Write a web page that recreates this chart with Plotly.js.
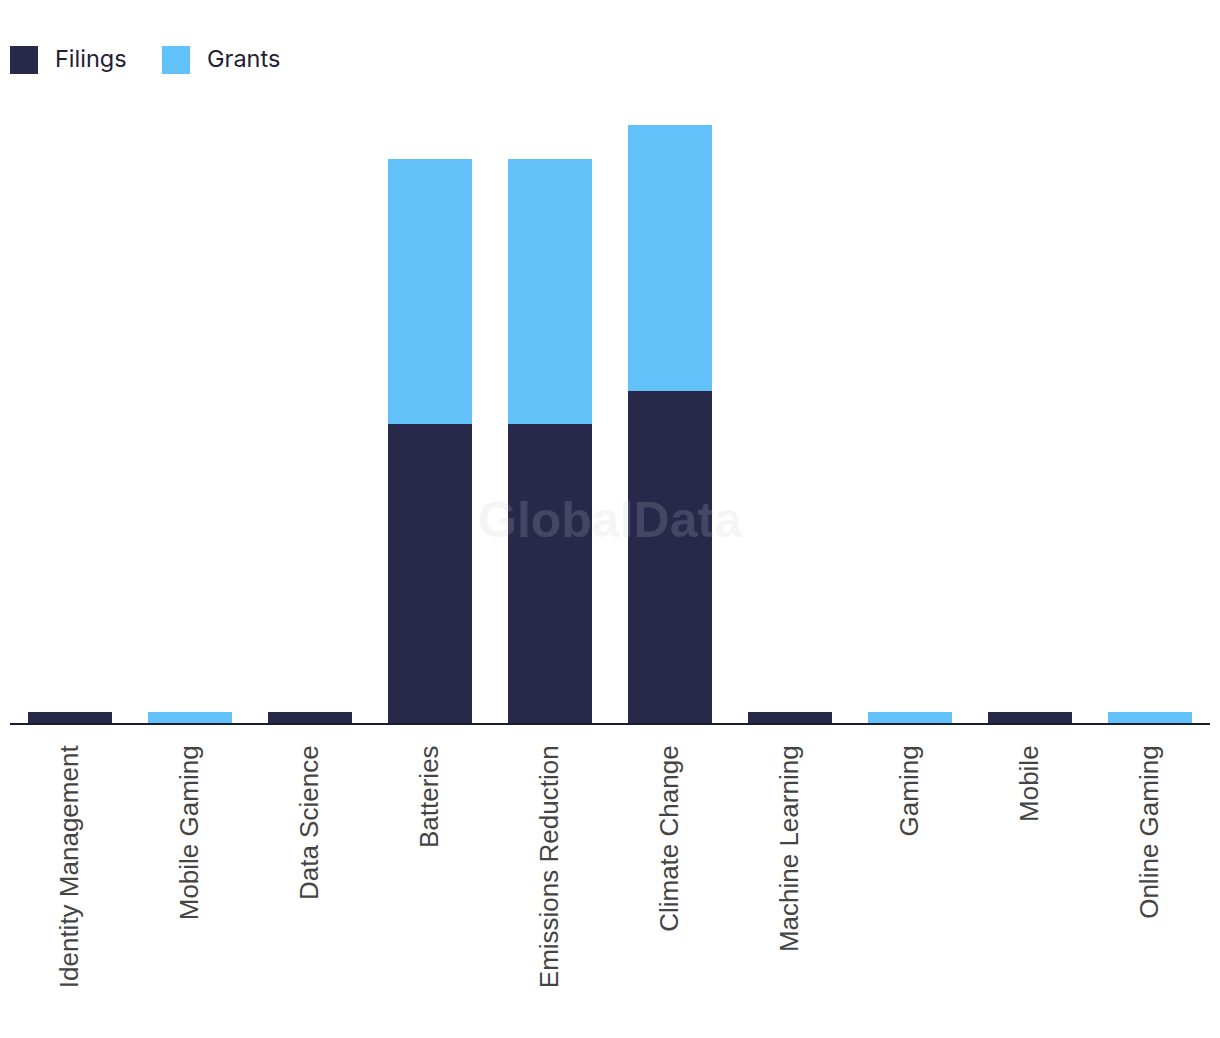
<!DOCTYPE html>
<html>
<head>
<meta charset="utf-8">
<script src="https://cdn.plot.ly/plotly-3.0.1.min.js"></script>
<style>html,body{margin:0;padding:0;background:#fff;}#chart{width:1220px;height:1038px;}</style>
</head>
<body>
<div id="chart"></div>
<script>
const categories = ["Identity Management","Mobile Gaming","Data Science","Batteries","Emissions Reduction","Climate Change","Machine Learning","Gaming","Mobile","Online Gaming"];
const filings = [1,0,1,27,27,30,1,0,1,0];
const grants  = [0,1,0,24,24,24,0,1,0,1];
const seriesNames = ["Filings","Grants"];
const seriesColors = ["#27284a","#62c1f9"];

const traces = [
  {type:'bar', name:seriesNames[0], x:categories, y:filings, marker:{color:seriesColors[0]}, showlegend:false, hoverinfo:'x+y+name'},
  {type:'bar', name:seriesNames[1], x:categories, y:grants, marker:{color:seriesColors[1]}, showlegend:false, hoverinfo:'x+y+name'}
];

const legendFont = {family:'Inter, "Noto Sans", sans-serif', size:23.5, color:'#1f2035'};
const layout = {
  width:1220, height:1038,
  margin:{l:10, r:10, t:100, b:315, pad:0},
  paper_bgcolor:'#ffffff', plot_bgcolor:'#ffffff',
  barmode:'stack', bargap:0.3,
  showlegend:false,
  xaxis:{type:'category', showline:true, linecolor:'#1b1b2f', linewidth:2, showgrid:false, zeroline:false,
         ticks:'', tickangle:-90, ticklabelstandoff:10,
         tickfont:{family:'"Liberation Sans", Arial, sans-serif', size:26, color:'#444444'}, automargin:false},
  yaxis:{range:[0,56.3], showgrid:false, zeroline:false, showticklabels:false, showline:false, fixedrange:true},
  shapes:[
    {type:'rect', xref:'paper', yref:'paper', x0:0, x1:28/1200, y0:1+ (100-46)/623, y1:1+(100-74)/623, fillcolor:seriesColors[0], line:{width:0}},
    {type:'rect', xref:'paper', yref:'paper', x0:152/1200, x1:180/1200, y0:1+(100-46)/623, y1:1+(100-74)/623, fillcolor:seriesColors[1], line:{width:0}}
  ],
  annotations:[
    {xref:'paper', yref:'paper', x:43/1200, y:1+(100-58)/623, xanchor:'left', yanchor:'middle', text:seriesNames[0], showarrow:false, font:legendFont},
    {xref:'paper', yref:'paper', x:195/1200, y:1+(100-58)/623, xanchor:'left', yanchor:'middle', text:seriesNames[1], showarrow:false, font:legendFont},
    {xref:'paper', yref:'paper', x:0.5, y:1-(520-100)/623, xanchor:'center', yanchor:'middle', text:'<b>GlobalData</b>', showarrow:false,
     font:{family:'"Liberation Sans", Arial, sans-serif', size:50, color:'rgba(201,201,212,0.19)'}}
  ]
};
Plotly.newPlot('chart', traces, layout, {displayModeBar:false, staticPlot:false});
</script>
</body>
</html>
